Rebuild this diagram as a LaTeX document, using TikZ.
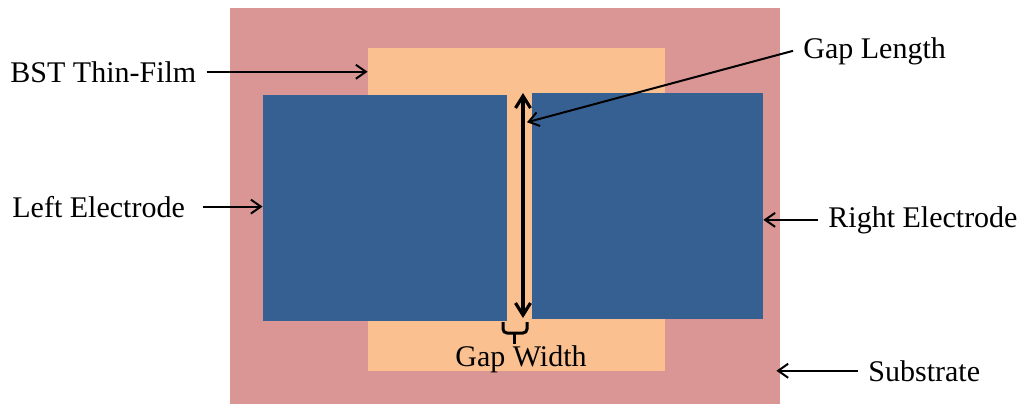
\documentclass[tikz,border=0pt]{standalone}
\usepackage{fontspec}
\setmainfont{Liberation Serif}
\usetikzlibrary{arrows.meta,calc}
\definecolor{subcol}{HTML}{D99694}
\definecolor{filmcol}{HTML}{FAC090}
\definecolor{elcol}{HTML}{376092}
\begin{document}
\begin{tikzpicture}[x=0.5pt,y=-0.5pt,
        every node/.style={font=\fontsize{15}{18}\selectfont},
        layer/.style={rectangle, inner sep=0pt, draw=none},
        lbl/.style={inner sep=5pt},
        arr/.style={line width=1pt, -{Straight Barb[length=5pt,width=7pt]}},
        gaparr/.style={line width=1.6pt, {Straight Barb[length=6pt,width=7.5pt]}-{Straight Barb[length=6pt,width=7.5pt]}}]
    \useasboundingbox (0,0) rectangle (1028,404);
    % layers of the device
    \node[layer, fill=subcol, minimum width=275pt, minimum height=198pt] (sub) at (505,206) {};
    \node[layer, fill=filmcol, minimum width=148.5pt, minimum height=161.5pt] (film) at (516.5,209.5) {};
    \node[layer, fill=elcol, minimum width=122pt, minimum height=113pt] (leftel) at (385,208) {};
    \node[layer, fill=elcol, minimum width=115.5pt, minimum height=113pt] (rightel) at (647.5,206) {};
    % gap
    \coordinate (gaptop) at (523,93);
    \coordinate (gapbot) at (523,318);
    \coordinate (gaphit) at ($(gaptop)!0.13!(gapbot)+(4,0)$);
    \draw[gaparr] (gaptop) -- (gapbot);
    \draw[line width=1.5pt, rounded corners=2pt] (503,322) -- (503,333) -- (527,333) -- (527,322);
    \draw[line width=1.5pt] (514,333) -- (514,344);
    % labels
    \node[lbl, anchor=base west] (filmlbl) at (0,82) {BST Thin-Film};
    \node[lbl, anchor=base west] (leftlbl) at (2,217) {Left Electrode};
    \node[lbl, anchor=base west] (gaplenlbl) at (793,58) {Gap Length};
    \node[lbl, anchor=base west] (rightlbl) at (818,227) {Right Electrode};
    \node[lbl, anchor=base west] (sublbl) at (858,381) {Substrate};
    \node[lbl, anchor=base] (gapwdlbl) at (521,366) {Gap Width};
    \draw[arr] (filmlbl.east) -- (film.west |- filmlbl.east);
    \draw[arr, shorten <=4pt] (leftlbl.east) -- (leftel.west |- leftlbl.east);
    \draw[arr] (rightlbl.west) -- (rightel.east |- rightlbl.west);
    \draw[arr] (sublbl.west) -- ($(sub.east |- sublbl.west)+(-4,0)$);
    \draw[arr] (gaplenlbl.west) -- (gaphit);
\end{tikzpicture}
\end{document}
